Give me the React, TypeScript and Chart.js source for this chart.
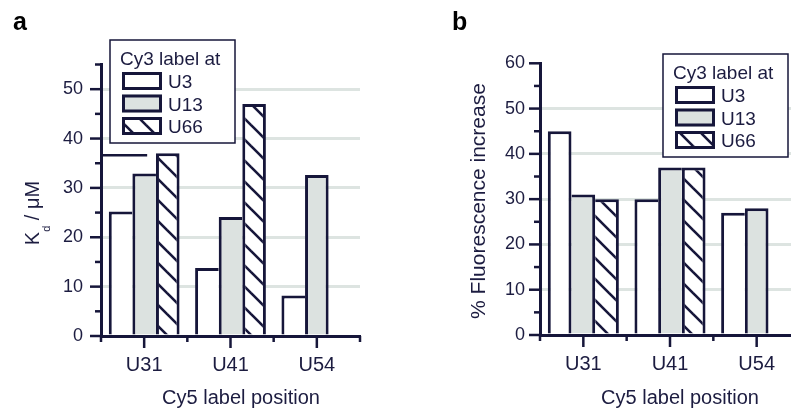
import React, { useEffect, useRef } from 'react';
import { Chart, registerables } from 'chart.js';

Chart.register(...registerables);

// Cy5 label positions (x categories) and Cy3 label series
const positions = ['U31', 'U41', 'U54'];
const cy3Labels = ['U3', 'U13', 'U66'];

// Panel a: dissociation constants (µM)
const kdU3 = [25.2, 13.8, 8.2];
const kdU13 = [32.9, 24.1, 32.6];
const kdU66: (number | null)[] = [37.0, 47.0, null];
const kdGuide = 36.6;
const kdMax = 55;

// Panel b: % fluorescence increase
const fluorU3 = [45, 30, 27];
const fluorU13 = [31, 37, 28];
const fluorU66: (number | null)[] = [30, 37, null];
const fluorMax = 60;

const INK = '#16163a';
const TEXT = '#1c1c40';
const GREY = '#dce2e0';
const GRID = '#dde4e1';
const FONT = '"Liberation Sans", Arial, Helvetica, sans-serif';
const EDGE = 3;

function makeHatch(): CanvasPattern | string {
  const s = 21;
  const c = document.createElement('canvas');
  c.width = s;
  c.height = s;
  const g = c.getContext('2d');
  if (!g) return '#ffffff';
  g.fillStyle = '#ffffff';
  g.fillRect(0, 0, s, s);
  g.strokeStyle = INK;
  g.lineWidth = 2.6;
  for (const k of [-s, 0, s]) {
    g.beginPath();
    g.moveTo(k - 3, -3);
    g.lineTo(k + s + 3, s + 3);
    g.stroke();
  }
  return g.createPattern(c, 'repeat') || '#ffffff';
}

// Shared edges between neighbouring bars are drawn once, by the taller bar
function edgeWidths(ctx: any) {
  if (ctx.dataIndex === undefined) return EDGE;
  const ds = ctx.chart.data.datasets;
  const i = ctx.datasetIndex;
  const j = ctx.dataIndex;
  const v = ds[i].data[j];
  const prev = i > 0 ? ds[i - 1].data[j] : null;
  const next = i < ds.length - 1 ? ds[i + 1].data[j] : null;
  return {
    top: EDGE,
    bottom: 0,
    left: prev == null || v >= prev ? EDGE : 0,
    right: next == null || v > next ? EDGE : 0,
  };
}

function drawLegend(ctx: CanvasRenderingContext2D, chart: any, x: number, y: number) {
  const w = 125;
  const h = 103;
  ctx.save();
  ctx.fillStyle = '#ffffff';
  ctx.fillRect(x, y, w, h);
  ctx.strokeStyle = INK;
  ctx.lineWidth = 1.5;
  ctx.strokeRect(x, y, w, h);
  ctx.fillStyle = TEXT;
  ctx.font = `19px ${FONT}`;
  ctx.textAlign = 'left';
  ctx.textBaseline = 'alphabetic';
  ctx.fillText('Cy3 label at', x + 10, y + 25);
  chart.data.datasets.forEach((d: any, i: number) => {
    const sy = y + 32 + i * 22.5;
    const sx = x + 12;
    ctx.fillStyle = d.backgroundColor;
    ctx.fillRect(sx, sy, 40, 18);
    ctx.strokeStyle = INK;
    ctx.lineWidth = 3;
    ctx.strokeRect(sx + 1.5, sy + 1.5, 37, 15);
    ctx.fillStyle = TEXT;
    ctx.font = `19px ${FONT}`;
    ctx.fillText(d.label, x + 58, sy + 16);
  });
  ctx.restore();
}

const decor = {
  id: 'decor',
  afterDraw(chart: any, _args: any, o: any) {
    const ctx: CanvasRenderingContext2D = chart.ctx;
    const xs = chart.scales.x;
    const ys = chart.scales.y;
    const area = chart.chartArea;
    ctx.save();
    ctx.strokeStyle = INK;
    ctx.lineWidth = 2.5;
    ctx.lineCap = 'butt';

    // y tick marks: long at every 10, short at every 5
    for (let v = 0; v <= o.max; v += 5) {
      const py = ys.getPixelForValue(v);
      const len = v % 10 === 0 ? 11 : 6;
      ctx.beginPath();
      ctx.moveTo(area.left - len, py);
      ctx.lineTo(area.left, py);
      ctx.stroke();
    }

    // x tick marks: long at category centres, short at category boundaries
    const step = (area.right - area.left) / positions.length;
    positions.forEach((_p, i) => {
      const cx = xs.getPixelForValue(i);
      ctx.beginPath();
      ctx.moveTo(cx, area.bottom);
      ctx.lineTo(cx, area.bottom + 12);
      ctx.stroke();
    });
    for (let i = 0; i <= positions.length; i++) {
      const bx = area.left + i * step;
      ctx.beginPath();
      ctx.moveTo(bx, area.bottom);
      ctx.lineTo(bx, area.bottom + 6);
      ctx.stroke();
    }

    if (o.guide != null) {
      const gy = ys.getPixelForValue(o.guide);
      ctx.beginPath();
      ctx.moveTo(area.left, gy);
      ctx.lineTo(xs.getPixelForValue(0) + 3, gy);
      ctx.stroke();
    }

    // panel letter
    ctx.fillStyle = '#000000';
    ctx.font = `bold 25px ${FONT}`;
    ctx.textAlign = 'left';
    ctx.textBaseline = 'alphabetic';
    ctx.fillText(o.letter, o.letterX, 30);

    // x title
    ctx.fillStyle = TEXT;
    ctx.font = `20px ${FONT}`;
    ctx.textAlign = 'center';
    ctx.fillText('Cy5 label position', o.xTitleX, 404);

    // y title (rotated, with optional subscript parts)
    ctx.save();
    ctx.translate(o.yTitleX, o.yTitleY);
    ctx.rotate(-Math.PI / 2);
    ctx.textAlign = 'left';
    let total = 0;
    for (const part of o.yTitle) {
      ctx.font = `${part.size}px ${FONT}`;
      total += ctx.measureText(part.t).width;
    }
    let tx = -total / 2;
    for (const part of o.yTitle) {
      ctx.font = `${part.size}px ${FONT}`;
      ctx.fillText(part.t, tx, part.dy || 0);
      tx += ctx.measureText(part.t).width;
    }
    ctx.restore();

    drawLegend(ctx, chart, o.legendX, o.legendY);
    ctx.restore();
  },
};

function buildConfig(p: any, hatch: CanvasPattern | string): any {
  const fills = ['#ffffff', GREY, hatch];
  return {
    type: 'bar',
    data: {
      labels: positions,
      datasets: p.series.map((vals: (number | null)[], i: number) => ({
        label: cy3Labels[i],
        data: vals,
        backgroundColor: fills[i],
        borderColor: INK,
        borderWidth: edgeWidths,
        borderSkipped: false,
        categoryPercentage: 0.82,
        barPercentage: 1,
      })),
    },
    options: {
      responsive: false,
      animation: false,
      layout: { padding: { top: p.top, right: p.right, left: 0, bottom: 0 } },
      plugins: {
        legend: { display: false },
        tooltip: { enabled: false },
        decor: p.decor,
      },
      scales: {
        x: {
          grid: { display: false, drawTicks: false },
          border: { display: true, color: INK, width: 3 },
          ticks: { font: { family: FONT, size: 20 }, color: TEXT, padding: 17 },
          afterFit: (s: any) => {
            s.height = p.xHeight;
          },
        },
        y: {
          min: 0,
          max: p.max,
          ticks: {
            stepSize: 5,
            autoSkip: false,
            callback: (v: any) => (Number(v) % 10 === 0 ? String(v) : ''),
            font: { family: FONT, size: 18 },
            color: TEXT,
            padding: p.yPad,
          },
          grid: {
            drawTicks: false,
            lineWidth: 3,
            color: (c: any) => {
              const v = c.tick ? c.tick.value : 0;
              return v % 10 === 0 && v > 0 && v < p.max ? GRID : 'rgba(0,0,0,0)';
            },
          },
          border: { display: true, color: INK, width: 3 },
          afterFit: (s: any) => {
            s.width = p.yWidth;
          },
        },
      },
    },
    plugins: [decor],
  };
}

export default function App() {
  const refA = useRef<HTMLCanvasElement>(null);
  const refB = useRef<HTMLCanvasElement>(null);

  useEffect(() => {
    const hatch = makeHatch();
    const charts: Chart[] = [];
    if (refA.current) {
      charts.push(
        new Chart(
          refA.current,
          buildConfig(
            {
              series: [kdU3, kdU13, kdU66],
              max: kdMax,
              top: 64.5,
              right: 40,
              xHeight: 73,
              yWidth: 101,
              yPad: 18,
              decor: {
                max: kdMax,
                letter: 'a',
                letterX: 13,
                legendX: 110,
                legendY: 40,
                xTitleX: 241,
                yTitleX: 38.5,
                yTitleY: 213,
                guide: kdGuide,
                yTitle: [
                  { t: 'K', size: 20 },
                  { t: 'd', size: 11, dy: 11 },
                  { t: ' / μM', size: 20 },
                ],
              },
            },
            hatch
          )
        )
      );
    }
    if (refB.current) {
      charts.push(
        new Chart(
          refB.current,
          buildConfig(
            {
              series: [fluorU3, fluorU13, fluorU66],
              max: fluorMax,
              top: 63.3,
              right: 10,
              xHeight: 74,
              yWidth: 140,
              yPad: 15,
              decor: {
                max: fluorMax,
                letter: 'b',
                letterX: 52,
                legendX: 263,
                legendY: 54,
                xTitleX: 280,
                yTitleX: 84.5,
                yTitleY: 201,
                guide: null,
                yTitle: [{ t: '% Fluorescence increase', size: 21 }],
              },
            },
            hatch
          )
        )
      );
    }
    return () => charts.forEach((c) => c.destroy());
  }, []);

  return (
    <div
      style={{
        position: 'fixed',
        left: 0,
        top: 0,
        width: 791,
        height: 409,
        overflow: 'hidden',
        background: '#ffffff',
      }}
    >
      <canvas ref={refA} width={400} height={409} style={{ position: 'absolute', left: 0, top: 0 }} />
      <canvas ref={refB} width={410} height={409} style={{ position: 'absolute', left: 400, top: 0 }} />
    </div>
  );
}
